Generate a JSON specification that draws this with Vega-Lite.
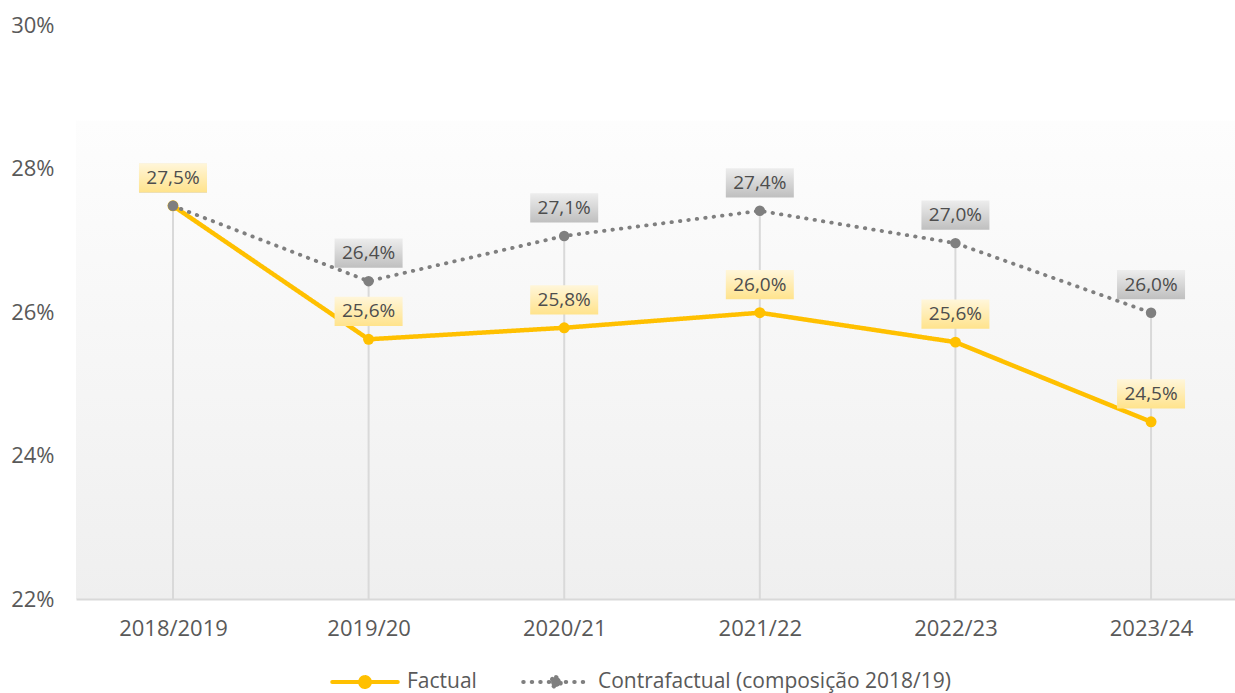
{
  "$schema": "https://vega.github.io/schema/vega-lite/v6.json",
  "autosize": "none",
  "padding": {"left": 76, "top": 25, "right": 0, "bottom": 94},
  "width": 1159,
  "height": 574,
  "background": "#ffffff",
  "config": {
    "locale": {"number": {"decimal": ",", "thousands": ".", "grouping": [3], "currency": ["", " €"]}},
    "font": "Open Sans",
    "view": {
      "stroke": null,
      "fill": {"gradient": "linear", "x1": 0, "y1": 0, "x2": 0, "y2": 1,
        "stops": [
          {"offset": 0, "color": "#ffffff"},
          {"offset": 0.166, "color": "#ffffff"},
          {"offset": 0.168, "color": "#fdfdfd"},
          {"offset": 1, "color": "#efefef"}
        ]}
    },
    "axis": {"labelFont": "Open Sans", "labelColor": "#595959", "labelFontSize": 22, "title": null, "ticks": false, "grid": false}
  },
  "data": {"values": [
    {"ano": "2018/2019", "serie": "Factual", "valor": 0.2748},
    {"ano": "2019/20", "serie": "Factual", "valor": 0.2562},
    {"ano": "2020/21", "serie": "Factual", "valor": 0.2578},
    {"ano": "2021/22", "serie": "Factual", "valor": 0.2599},
    {"ano": "2022/23", "serie": "Factual", "valor": 0.2558},
    {"ano": "2023/24", "serie": "Factual", "valor": 0.2447},
    {"ano": "2018/2019", "serie": "Contrafactual (composição 2018/19)", "valor": 0.2748},
    {"ano": "2019/20", "serie": "Contrafactual (composição 2018/19)", "valor": 0.2643},
    {"ano": "2020/21", "serie": "Contrafactual (composição 2018/19)", "valor": 0.2706},
    {"ano": "2021/22", "serie": "Contrafactual (composição 2018/19)", "valor": 0.2741},
    {"ano": "2022/23", "serie": "Contrafactual (composição 2018/19)", "valor": 0.2696},
    {"ano": "2023/24", "serie": "Contrafactual (composição 2018/19)", "valor": 0.2599}
  ]},
  "encoding": {
    "x": {"field": "ano", "type": "ordinal", "sort": null,
      "scale": {"type": "point", "padding": 0.4625, "align": 0.536},
      "axis": {"labelAngle": 0, "labelPadding": 19, "domainColor": "#d9d9d9", "domainWidth": 2}},
    "y": {"field": "valor", "type": "quantitative",
      "scale": {"domain": [0.22, 0.30], "nice": false, "zero": false},
      "axis": {"values": [0.22, 0.24, 0.26, 0.28, 0.30], "format": ".0%", "domain": false, "labelPadding": 22}}
  },
  "layer": [
    {
      "mark": {"type": "rule", "color": "#d9d9d9", "strokeWidth": 2},
      "encoding": {
        "y": {"aggregate": "max", "field": "valor", "type": "quantitative"},
        "y2": {"datum": 0.22}
      }
    },
    {
      "transform": [{"filter": "datum.serie === 'Factual'"}],
      "mark": {"type": "line", "strokeWidth": 4.5, "strokeCap": "round", "strokeJoin": "round"},
      "encoding": {
        "color": {"field": "serie", "type": "nominal",
          "scale": {"domain": ["Factual", "Contrafactual (composição 2018/19)"], "range": ["#FFC000", "#7F7F7F"]},
          "legend": {
            "orient": "none", "direction": "horizontal", "legendX": 254, "legendY": 622,
            "title": null, "labelFontSize": 21, "labelColor": "#595959", "labelFont": "Open Sans", "labelLimit": 800,
            "symbolType": "M-1,0H1M0,-0.15A0.15,0.15,0,1,1,0,0.15A0.15,0.15,0,1,1,0,-0.15Z",
            "symbolSize": 4300, "symbolStrokeWidth": 4, "labelOffset": 7, "columnPadding": 38,
            "encode": {"symbols": {"update": {"fill": {"scale": "color", "field": "value"}, "strokeCap": {"value": "round"}}}}
          }},
        "strokeDash": {"field": "serie", "type": "nominal",
          "scale": {"domain": ["Factual", "Contrafactual (composição 2018/19)"], "range": [[1, 0], [0.5, 8]]}}
      }
    },
    {
      "transform": [{"filter": "datum.serie === 'Factual'"}],
      "mark": {"type": "point", "filled": true, "opacity": 1, "size": 120, "shape": "circle", "color": "#FFC000"}
    },
    {
      "transform": [{"filter": "datum.serie !== 'Factual'"}],
      "mark": {"type": "line", "strokeWidth": 3.8, "strokeCap": "round"},
      "encoding": {
        "color": {"field": "serie", "type": "nominal"},
        "strokeDash": {"field": "serie", "type": "nominal"}
      }
    },
    {
      "transform": [{"filter": "datum.serie !== 'Factual'"}],
      "mark": {"type": "point", "filled": true, "opacity": 1, "size": 110, "shape": "circle", "color": "#7F7F7F"}
    },
    {
      "transform": [{"filter": "datum.serie !== 'Factual'"}],
      "mark": {"type": "point", "filled": true, "opacity": 1, "size": 4624, "yOffset": -28,
        "shape": "M-1,-0.43H1V0.43H-1Z", "strokeWidth": 0,
        "fill": {"gradient": "linear", "x1": 0, "y1": 0, "x2": 0, "y2": 1,
          "stops": [{"offset": 0, "color": "#EDEDED"}, {"offset": 1, "color": "#BFBFBF"}]}}
    },
    {
      "transform": [{"filter": "datum.serie !== 'Factual'"}],
      "mark": {"type": "text", "fontSize": 19, "font": "Open Sans", "color": "#4d4d4d", "yOffset": -28, "baseline": "middle", "align": "center"},
      "encoding": {
        "text": {"field": "valor", "type": "quantitative", "format": ".1%"}
      }
    },
    {
      "transform": [{"filter": "datum.serie === 'Factual'"}],
      "mark": {"type": "point", "filled": true, "opacity": 1, "size": 4624, "yOffset": -28,
        "shape": "M-1,-0.43H1V0.43H-1Z", "strokeWidth": 0,
        "fill": {"gradient": "linear", "x1": 0, "y1": 0, "x2": 0, "y2": 1,
          "stops": [{"offset": 0, "color": "#FFF6DA"}, {"offset": 1, "color": "#FFE38C"}]}}
    },
    {
      "transform": [{"filter": "datum.serie === 'Factual'"}],
      "mark": {"type": "text", "fontSize": 19, "font": "Open Sans", "color": "#4d4d4d", "yOffset": -28, "baseline": "middle", "align": "center"},
      "encoding": {
        "text": {"field": "valor", "type": "quantitative", "format": ".1%"}
      }
    }
  ]
}
